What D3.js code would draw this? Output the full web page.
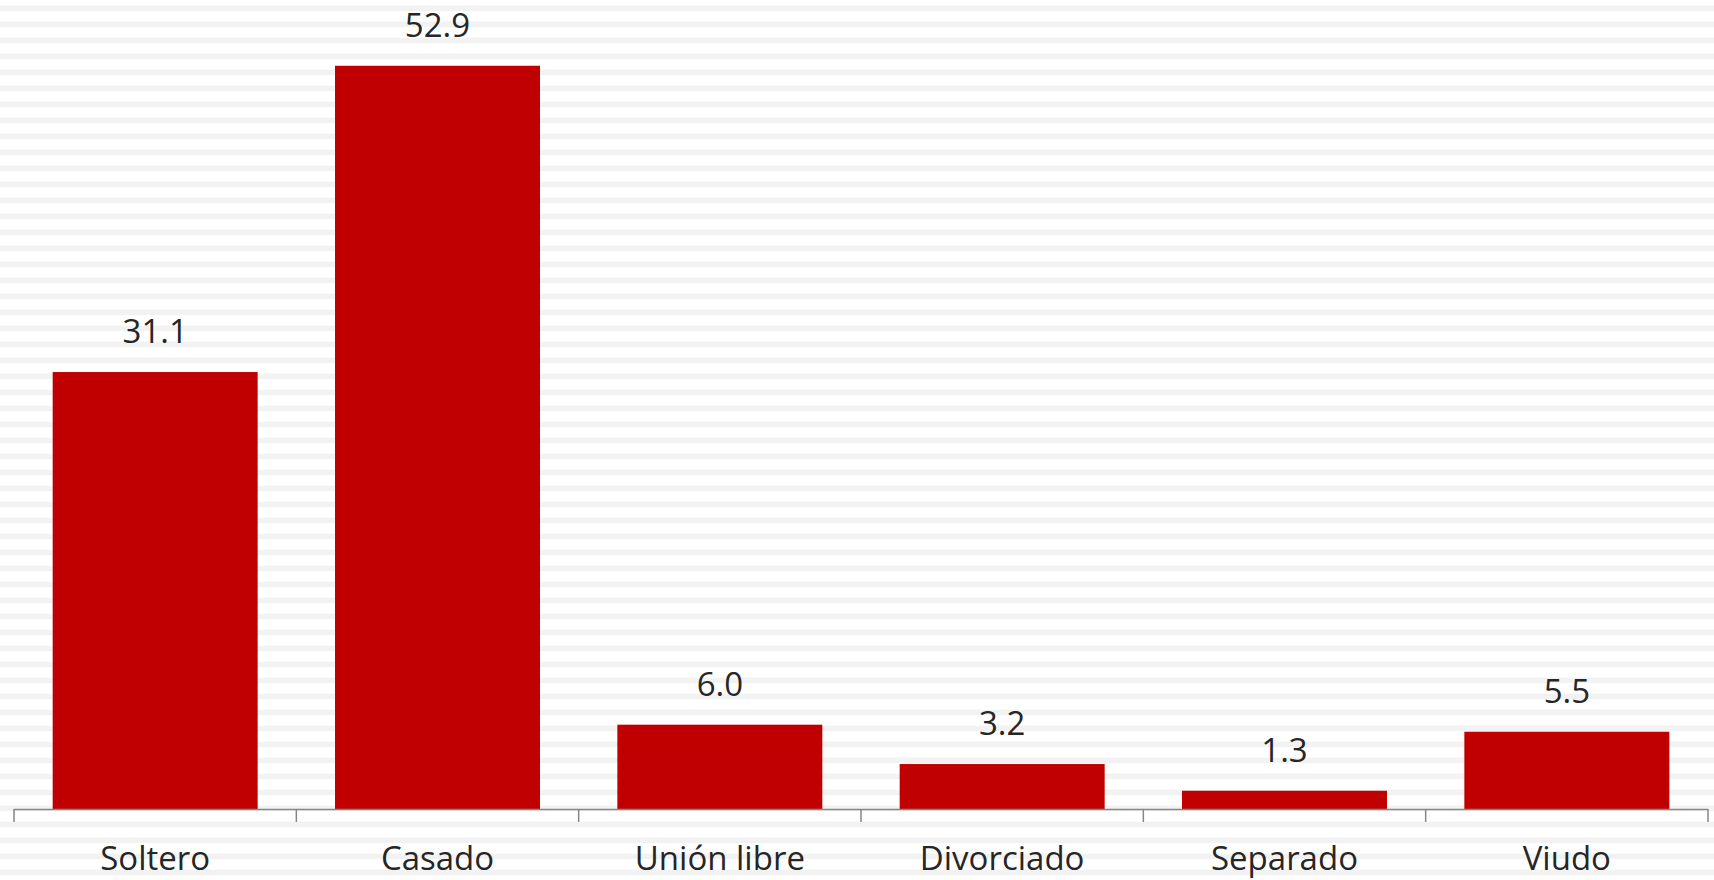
<!DOCTYPE html>
<html>
<head>
<meta charset="utf-8">
<script src="https://cdn.jsdelivr.net/npm/d3@7"></script>
<style>
  html, body { margin: 0; padding: 0; background: #fff; }
  svg { display: block; }
  text { font-family: "Open Sans", "Liberation Sans", sans-serif; fill: #262626; }
</style>
</head>
<body>
<div id="chart"></div>
<script>
// data //
let categories = ["Soltero", "Casado", "Unión libre", "Divorciado", "Separado", "Viudo"];
let values = [31.1, 52.9, 6.0, 3.2, 1.3, 5.5];

let SVGwidth = 1714,
    SVGheight = 880,
    axisLeft = 14,
    axisRight = 1708,
    baseY = 809,
    pxPerUnit = 14.05;

let svg = d3.select("#chart").append("svg")
    .attr("width", SVGwidth)
    .attr("height", SVGheight);

// striped background
let stripes = d3.range(5.7, SVGheight, 16);
svg.selectAll(".stripe")
    .data(stripes)
    .enter().append("rect")
    .attr("class", "stripe")
    .attr("x", 0)
    .attr("y", function(d) { return d; })
    .attr("width", SVGwidth)
    .attr("height", 5.4)
    .style("fill", "#f2f2f2");

let xScale = d3.scaleBand()
    .domain(categories)
    .range([axisLeft, axisRight])
    .paddingInner(0.274)
    .paddingOuter(0.137);

let yScale = d3.scaleLinear()
    .domain([0, 55])
    .range([baseY, baseY - 55 * pxPerUnit]);

svg.selectAll(".bar")
    .data(values)
    .enter().append("rect")
    .attr("class", "bar")
    .attr("x", function(d, i) { return xScale(categories[i]); })
    .attr("y", function(d) { return yScale(d); })
    .attr("width", xScale.bandwidth())
    .attr("height", function(d) { return yScale(0) - yScale(d); })
    .style("fill", "#c00000");

svg.selectAll(".valueLabel")
    .data(values)
    .enter().append("text")
    .attr("class", "valueLabel")
    .attr("x", function(d, i) { return xScale(categories[i]) + xScale.bandwidth() / 2; })
    .attr("y", function(d) { return yScale(d) - 29; })
    .style("text-anchor", "middle")
    .style("font-size", "33px")
    .text(function(d) { return d.toFixed(1); });

// axis with ticks between categories
let tickPos = d3.range(categories.length + 1).map(function(i) {
    return axisLeft + i * (axisRight - axisLeft) / categories.length;
});

let axis = svg.append("g").attr("class", "xAxis");
axis.append("line")
    .attr("x1", axisLeft).attr("x2", axisRight)
    .attr("y1", baseY + 0.5).attr("y2", baseY + 0.5)
    .style("stroke", "#868686")
    .style("stroke-width", 1.5);
axis.selectAll(".tick")
    .data(tickPos)
    .enter().append("line")
    .attr("class", "tick")
    .attr("x1", function(d) { return d; })
    .attr("x2", function(d) { return d; })
    .attr("y1", baseY)
    .attr("y2", baseY + 13)
    .style("stroke", "#868686")
    .style("stroke-width", 1.5);

svg.selectAll(".catLabel")
    .data(categories)
    .enter().append("text")
    .attr("class", "catLabel")
    .attr("x", function(d) { return xScale(d) + xScale.bandwidth() / 2; })
    .attr("y", 870)
    .style("text-anchor", "middle")
    .style("font-size", "33px")
    .text(function(d) { return d; });
</script>
</body>
</html>
